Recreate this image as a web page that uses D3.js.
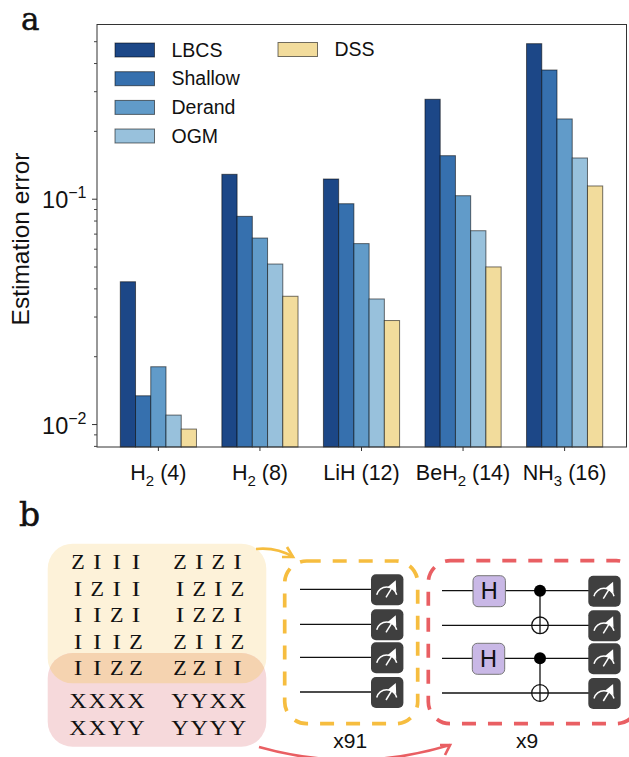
<!DOCTYPE html>
<html>
<head>
<meta charset="utf-8">
<script src="https://cdn.jsdelivr.net/npm/d3@7"></script>
<style>
html, body { margin: 0; padding: 0; background: #fff; }
svg { display: block; }
text { fill: #111; }
</style>
</head>
<body>
<svg width="629" height="757"></svg>
<script>
var sans = '"Liberation Sans", Arial, sans-serif';
var serif = '"Liberation Serif", serif';

// chart values
var categories = ['H2_4', 'H2_8', 'LiH_12', 'BeH2_14', 'NH3_16'];
var labelParts = [['H', '2', ' (4)'], ['H', '2', ' (8)'], ['LiH (12)', '', ''], ['BeH', '2', ' (14)'], ['NH', '3', ' (16)']];
var methods = ['LBCS', 'Shallow', 'Derand', 'OGM', 'DSS'];
var colors = ['#1c4787', '#3670ae', '#619bc9', '#98c1dc', '#f2dc9c'];
var lbcs = [0.0428, 0.1283, 0.1223, 0.2762, 0.4875];
var shallow = [0.01335, 0.0835, 0.0950, 0.1552, 0.3725];
var derand = [0.01796, 0.0669, 0.0632, 0.1031, 0.2259];
var ogm = [0.01096, 0.0513, 0.0359, 0.0721, 0.1516];
var dss = [0.0095, 0.0369, 0.0288, 0.0498, 0.1139];
var series = [lbcs, shallow, derand, ogm, dss];
var majorTicks = [0.01, 0.1];
var minorTicks = [0.008, 0.009, 0.02, 0.03, 0.04, 0.05, 0.06, 0.07, 0.08, 0.09, 0.2, 0.3, 0.4, 0.5];

// panel b text
var pauliLeft = ['ZIII', 'IZII', 'IIZI', 'IIIZ', 'IIZZ', 'XXXX', 'XXYY'];
var pauliRight = ['ZIZI', 'IZIZ', 'IZZI', 'ZIIZ', 'ZZII', 'YYXX', 'YYYY'];

var svg = d3.select('svg');

var left = 97, right = 626.5, top_ = 24.5, bottom = 447;

var x = d3.scaleBand().domain(categories).range([120.3, 602.7]).paddingInner(0.25).paddingOuter(0);
var xInner = d3.scaleBand().domain(methods).range([0, x.bandwidth()]);
var y = d3.scaleLog().domain([0.00791, 0.593]).range([bottom, top_]);

// bars
var groups = svg.append('g').selectAll('g').data(categories).join('g')
    .attr('transform', function (d) { return 'translate(' + x(d) + ',0)'; });
groups.selectAll('rect')
    .data(function (d, i) { return methods.map(function (m, j) { return { m: m, v: series[j][i], c: colors[j] }; }); })
    .join('rect')
    .attr('x', function (d) { return xInner(d.m); })
    .attr('y', function (d) { return y(d.v); })
    .attr('width', xInner.bandwidth())
    .attr('height', function (d) { return bottom - y(d.v); })
    .attr('fill', function (d) { return d.c; })
    .attr('stroke', '#000')
    .attr('stroke-opacity', 0.55)
    .attr('stroke-width', 1);

// frame
svg.append('rect').attr('x', left).attr('y', top_).attr('width', right - left).attr('height', bottom - top_)
    .attr('fill', 'none').attr('stroke', '#333').attr('stroke-width', 1);

// axes
var yMinor = d3.axisLeft(y).tickValues(minorTicks).tickSize(3).tickFormat('');
var yMajor = d3.axisLeft(y).tickValues(majorTicks).tickSize(5).tickFormat('');
var gMinor = svg.append('g').attr('transform', 'translate(' + left + ',0)').call(yMinor);
var gMajor = svg.append('g').attr('transform', 'translate(' + left + ',0)').call(yMajor);
gMinor.select('.domain').remove();
gMajor.select('.domain').remove();
gMinor.selectAll('line').attr('stroke', '#444');
gMajor.selectAll('line').attr('stroke', '#333');

gMajor.selectAll('.tick').append('text')
    .attr('x', -10.5).attr('y', 9).attr('dy', 0)
    .attr('text-anchor', 'end')
    .style('font-family', sans).style('font-size', '23.5px')
    .each(function (d) {
        var t = d3.select(this);
        t.append('tspan').text('10');
        t.append('tspan').attr('dy', -10).style('font-size', '16px').text('\u2212' + Math.round(-Math.log10(d)));
    });

var xAxis = d3.axisBottom(x).tickSize(4).tickFormat('');
var gx = svg.append('g').attr('transform', 'translate(0,' + bottom + ')').call(xAxis);
gx.select('.domain').remove();
gx.selectAll('line').attr('stroke', '#333');
gx.selectAll('.tick').append('text')
    .attr('y', 33).attr('dy', 0)
    .attr('text-anchor', 'middle')
    .style('font-family', sans).style('font-size', '21.5px')
    .each(function (d, i) {
        var t = d3.select(this), p = labelParts[i];
        t.append('tspan').text(p[0]);
        if (p[1]) {
            t.append('tspan').attr('dy', 6).style('font-size', '15px').text(p[1]);
            t.append('tspan').attr('dy', -6).text(p[2]);
        }
    });

svg.append('text').attr('transform', 'translate(29,239) rotate(-90)')
    .attr('text-anchor', 'middle')
    .style('font-family', sans).style('font-size', '24.5px')
    .text('Estimation error');

// legend
var legendX = d3.scaleOrdinal().domain(methods).range([115, 115, 115, 115, 278]);
var legendY = d3.scaleOrdinal().domain(methods).range([43, 71.7, 100.4, 129, 42.5]);
var legend = svg.append('g').selectAll('g').data(methods).join('g')
    .attr('transform', function (d) { return 'translate(' + legendX(d) + ',' + legendY(d) + ')'; });
legend.append('rect').attr('width', 39.5).attr('height', 14)
    .attr('fill', function (d, i) { return colors[i]; })
    .attr('stroke', '#000').attr('stroke-opacity', 0.55);
legend.append('text').attr('x', 56.5).attr('y', 13.7)
    .style('font-family', sans).style('font-size', '19.5px')
    .text(function (d) { return d; });

// panel letters
svg.append('text').attr('x', 21).attr('y', 29.5).style('font-family', '"DejaVu Serif", serif').style('font-size', '31px')
    .style('stroke', '#111').style('stroke-width', 0.5).text('a');
svg.append('text').attr('x', 19).attr('y', 526).style('font-family', '"DejaVu Serif", serif').style('font-size', '33px')
    .style('stroke', '#111').style('stroke-width', 0.5).text('b');

// panel b backgrounds
var defs = svg.append('defs');
defs.append('clipPath').attr('id', 'yellowClip').append('rect')
    .attr('x', 47.7).attr('y', 543.7).attr('width', 218.6).attr('height', 139.6).attr('rx', 25);
svg.append('rect').attr('x', 47.7).attr('y', 543.7).attr('width', 218.6).attr('height', 139.6).attr('rx', 25).attr('fill', '#fdf2d9');
svg.append('rect').attr('x', 47.7).attr('y', 653).attr('width', 218.6).attr('height', 93.7).attr('rx', 25).attr('fill', '#f6d9db');
svg.append('rect').attr('x', 47.7).attr('y', 653).attr('width', 218.6).attr('height', 93.7).attr('rx', 25).attr('fill', '#f5d3b0')
    .attr('clip-path', 'url(#yellowClip)');

// pauli strings, glyphs stretched to the wider look of the original serif
var rowY = d3.scalePoint().domain([0, 1, 2, 3, 4]).range([569.3, 675]);
var rowY2 = d3.scalePoint().domain([5, 6]).range([708, 734.7]);
function baseline(i) { return i < 5 ? rowY(i) : rowY2(i); }
var colLeft = d3.scalePoint().domain([0, 1, 2, 3]).range([78, 136]);
var colRight = d3.scalePoint().domain([0, 1, 2, 3]).range([180, 237.5]);
var glyphWidth = d3.scaleOrdinal().domain(['I', 'Z', 'X', 'Y']).range([8.5, 13.5, 17.5, 17.5]);
function drawPauli(rows, col) {
    rows.forEach(function (row, i) {
        svg.append('g').selectAll('text').data(row.split('')).join('text')
            .attr('x', function (d, j) { return col(j); })
            .attr('y', baseline(i))
            .attr('text-anchor', 'middle')
            .attr('textLength', function (d) { return glyphWidth(d); })
            .attr('lengthAdjust', 'spacingAndGlyphs')
            .style('font-family', serif).style('font-size', '21.5px')
            .text(function (d) { return d; });
    });
}
drawPauli(pauliLeft, colLeft);
drawPauli(pauliRight, colRight);

// dashed boxes
function dashedBox(x0, y0, w, h, color) {
    svg.append('rect').attr('x', x0).attr('y', y0).attr('width', w).attr('height', h).attr('rx', 22)
        .attr('fill', 'none').attr('stroke', color).attr('stroke-width', 3.7)
        .attr('stroke-dasharray', '14 12');
}
dashedBox(284.7, 561, 133, 162.7, '#f6bd3f');
dashedBox(428.3, 560.7, 210, 163, '#e95f63');

// circuit
function wire(x0, x1, yy) {
    svg.append('line').attr('x1', x0).attr('x2', x1).attr('y1', yy).attr('y2', yy)
        .attr('stroke', '#111').attr('stroke-width', 1.3);
}
function meter(x0, y0) {
    var g = svg.append('g').attr('transform', 'translate(' + x0 + ',' + y0 + ')');
    g.append('rect').attr('width', 32.4).attr('height', 31).attr('rx', 5).attr('fill', '#3f3f3f');
    g.append('path').attr('d', 'M5.7,20.5 A10.3,10.3 0 0 1 25.7,20.5').attr('fill', 'none').attr('stroke', '#fff').attr('stroke-width', 1.5);
    g.append('line').attr('x1', 15).attr('y1', 23).attr('x2', 23).attr('y2', 10).attr('stroke', '#fff').attr('stroke-width', 1.5);
    g.append('path').attr('d', 'M24.8,6 L25.2,17 L17,12.5 Z').attr('fill', '#fff');
}
[589.3, 624.3, 657.3, 692].forEach(function (yy) {
    wire(300, 372, yy);
    meter(371, yy - 15);
});
[590.7, 625.3, 658.3, 693].forEach(function (yy) {
    wire(442, 589, yy);
    meter(588.3, yy - 15);
});
[[590.7, 625.3, 473], [658.3, 693, 472.3]].forEach(function (p) {
    svg.append('rect').attr('x', p[2]).attr('y', p[0] - 15).attr('width', 32.4).attr('height', 31).attr('rx', 5)
        .attr('fill', '#c9b8e6').attr('stroke', '#777').attr('stroke-width', 1);
    svg.append('text').attr('x', p[2] + 16.2).attr('y', p[0] + 8.6).attr('text-anchor', 'middle')
        .style('font-family', sans).style('font-size', '23.5px').text('H');
    svg.append('line').attr('x1', 540).attr('x2', 540).attr('y1', p[0]).attr('y2', p[1] + 8.3).attr('stroke', '#111').attr('stroke-width', 1.3);
    svg.append('circle').attr('cx', 540).attr('cy', p[0]).attr('r', 6).attr('fill', '#000');
    svg.append('circle').attr('cx', 540).attr('cy', p[1]).attr('r', 8.3).attr('fill', 'none').attr('stroke', '#111').attr('stroke-width', 1.3);
});

svg.append('text').attr('x', 350.3).attr('y', 748).attr('text-anchor', 'middle').style('font-family', sans).style('font-size', '21px').text('x91');
svg.append('text').attr('x', 527).attr('y', 748).attr('text-anchor', 'middle').style('font-family', sans).style('font-size', '21px').text('x9');

// arrows
svg.append('path').attr('d', 'M256,549 Q277,547 293,557').attr('fill', 'none').attr('stroke', '#f6bd3f').attr('stroke-width', 2.7);
svg.append('path').attr('d', 'M287,547 L293,557 L282,557').attr('fill', 'none').attr('stroke', '#f6bd3f').attr('stroke-width', 2.7);
svg.append('path').attr('d', 'M259,747 Q355,774 450,745').attr('fill', 'none').attr('stroke', '#e95f63').attr('stroke-width', 2.7);
svg.append('path').attr('d', 'M440,745 L450,745 L445,755').attr('fill', 'none').attr('stroke', '#e95f63').attr('stroke-width', 2.7);
</script>
</body>
</html>
